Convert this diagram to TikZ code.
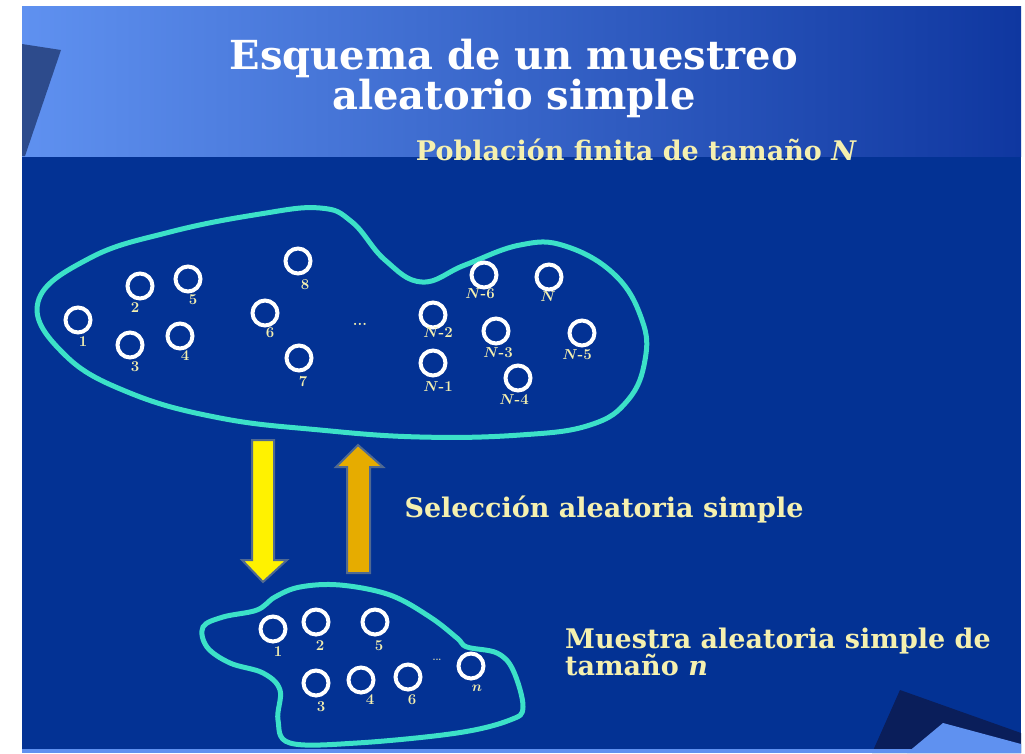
\documentclass[tikz,border=0pt]{standalone}
\usepackage{amsmath}
\usepackage{fontspec}
\newfontfamily\wideserif{DejaVu Serif}
\usepackage{tikz}
\usetikzlibrary{arrows.meta}
\definecolor{slideblue}{RGB}{3,50,148}
\definecolor{lightblue}{RGB}{95,145,240}
\definecolor{gradend}{RGB}{15,55,160}
\definecolor{slate}{RGB}{45,75,140}
\definecolor{navy}{RGB}{10,30,90}
\definecolor{turq}{RGB}{60,225,200}
\definecolor{cream}{RGB}{245,240,175}
\definecolor{arrowedge}{RGB}{80,105,145}
\definecolor{gold}{RGB}{230,172,0}

\begin{document}
\begin{tikzpicture}[x=1pt,y=-1pt]
\tikzstyle{every node}+=[inner sep=0pt]
\tikzstyle{ring}=[circle,draw=white,line width=4pt,minimum size=25pt]
\tikzstyle{num}=[text=cream,font=\fontsize{15}{15}\selectfont\bfseries]
\tikzstyle{blob}=[draw=turq,line width=5pt]
\useasboundingbox (0,0) rectangle (1025,753);
\fill [white] (0,0) rectangle (1025,753);
\fill [slideblue] (22,6) rectangle (1021,753);
\shade [left color=lightblue,right color=gradend] (22,6) rectangle (1021,156);
\fill [slate] (22,44) -- (61,50) -- (25,156) -- (22,156) -- cycle;
\fill [navy] (900,690) -- (1021,733) -- (1021,753) -- (872,753) -- cycle;
\fill [lightblue] (943,723) -- (1021,744) -- (1021,753) -- (907,753) -- cycle;
\fill [lightblue] (22,749) rectangle (1021,753);
\node (title) at (514,78) [text=white,align=center,font=\wideserif\fontsize{40}{40}\selectfont\bfseries] {Esquema de un muestreo\\aleatorio simple};
\node (poblacion) at (636,160) [anchor=base,text=cream,font=\wideserif\fontsize{27}{27}\selectfont\bfseries] {Poblaci\'on finita de tama\~no {\itshape N}};
\draw [blob] plot [smooth cycle,tension=0.7] coordinates {(38,302) (90,258) (170,232) (260,214) (320,208) (352,222) (385,260) (422,282) (465,265) (520,245) (565,246) (615,275) (642,320) (645,360) (628,400) (590,425) (520,435) (420,437) (320,430) (220,418) (130,393) (65,355)};
\node [ring] (p1) at (78,320) {};
\node [num] (l1) at (83,342) {1};
\node [ring] (p2) at (140,286) {};
\node [num] (l2) at (135,308) {2};
\node [ring] (p5) at (188,279) {};
\node [num] (l5) at (193,300) {5};
\node [ring] (p3) at (130,345) {};
\node [num] (l3) at (135,367) {3};
\node [ring] (p4) at (180,336) {};
\node [num] (l4) at (185,356) {4};
\node [ring] (p6) at (265,313) {};
\node [num] (l6) at (270,333) {6};
\node [ring] (p8) at (298,261) {};
\node [num] (l8) at (305,285) {8};
\node [ring] (p7) at (299,358) {};
\node [num] (l7) at (303,382) {7};
\node [num] (pdots) at (360,324) {...};
\node [ring] (pN6) at (484,275) {};
\node [num] (lN6) at (480,294) {$\boldsymbol{N}$-6};
\node [ring] (pN) at (549,277) {};
\node [num] (lN) at (548,297) {$\boldsymbol{N}$};
\node [ring] (pN2) at (433,315) {};
\node [num] (lN2) at (438,333) {$\boldsymbol{N}$-2};
\node [ring] (pN3) at (496,331) {};
\node [num] (lN3) at (498,353) {$\boldsymbol{N}$-3};
\node [ring] (pN5) at (582,333) {};
\node [num] (lN5) at (577,355) {$\boldsymbol{N}$-5};
\node [ring] (pN1) at (433,363) {};
\node [num] (lN1) at (438,387) {$\boldsymbol{N}$-1};
\node [ring] (pN4) at (518,378) {};
\node [num] (lN4) at (514,400) {$\boldsymbol{N}$-4};
\filldraw [fill=yellow,draw=arrowedge,line width=2pt,line join=miter] (252,440) -- (274,440) -- (274,560) -- (287,560) -- (263,582) -- (242,560) -- (252,560) -- cycle;
\filldraw [fill=gold,draw=arrowedge,line width=2pt,line join=miter] (347,573) -- (370,573) -- (370,467) -- (383,467) -- (358,445) -- (336,467) -- (347,467) -- cycle;
\node (seleccion) at (604,517) [anchor=base,text=cream,font=\wideserif\fontsize{27}{27}\selectfont\bfseries] {Selecci\'on aleatoria simple};
\draw [blob] plot [smooth cycle,tension=0.6] coordinates {(203,627) (223,617) (257,610) (275,597) (300,587) (340,585) (390,595) (430,617) (457,638) (467,647) (497,653) (513,670) (523,707) (510,720) (457,733) (357,743) (290,743) (278,720) (280,690) (263,673) (230,663) (207,647)};
\node [ring] (s1) at (273,629) {};
\node [num] (m1) at (278,652) {1};
\node [ring] (s2) at (316,622) {};
\node [num] (m2) at (320,646) {2};
\node [ring] (s5) at (375,622) {};
\node [num] (m5) at (379,646) {5};
\node [ring] (s3) at (316,683) {};
\node [num] (m3) at (321,707) {3};
\node [ring] (s4) at (361,680) {};
\node [num] (m4) at (370,700) {4};
\node [ring] (s6) at (408,677) {};
\node [num] (m6) at (412,700) {6};
\node [num,font=\fontsize{9}{9}\selectfont\bfseries] (sdots) at (437,660) {...};
\node [ring] (sn) at (471,666) {};
\node [num] (mn) at (477,688) {$\boldsymbol{n}$};
\node (muestra) at (565,675) [anchor=base west,align=left,text=cream,font=\wideserif\fontsize{27}{27}\selectfont\bfseries] {Muestra aleatoria simple de\\tama\~no {\itshape n}};
\end{tikzpicture}
\end{document}
